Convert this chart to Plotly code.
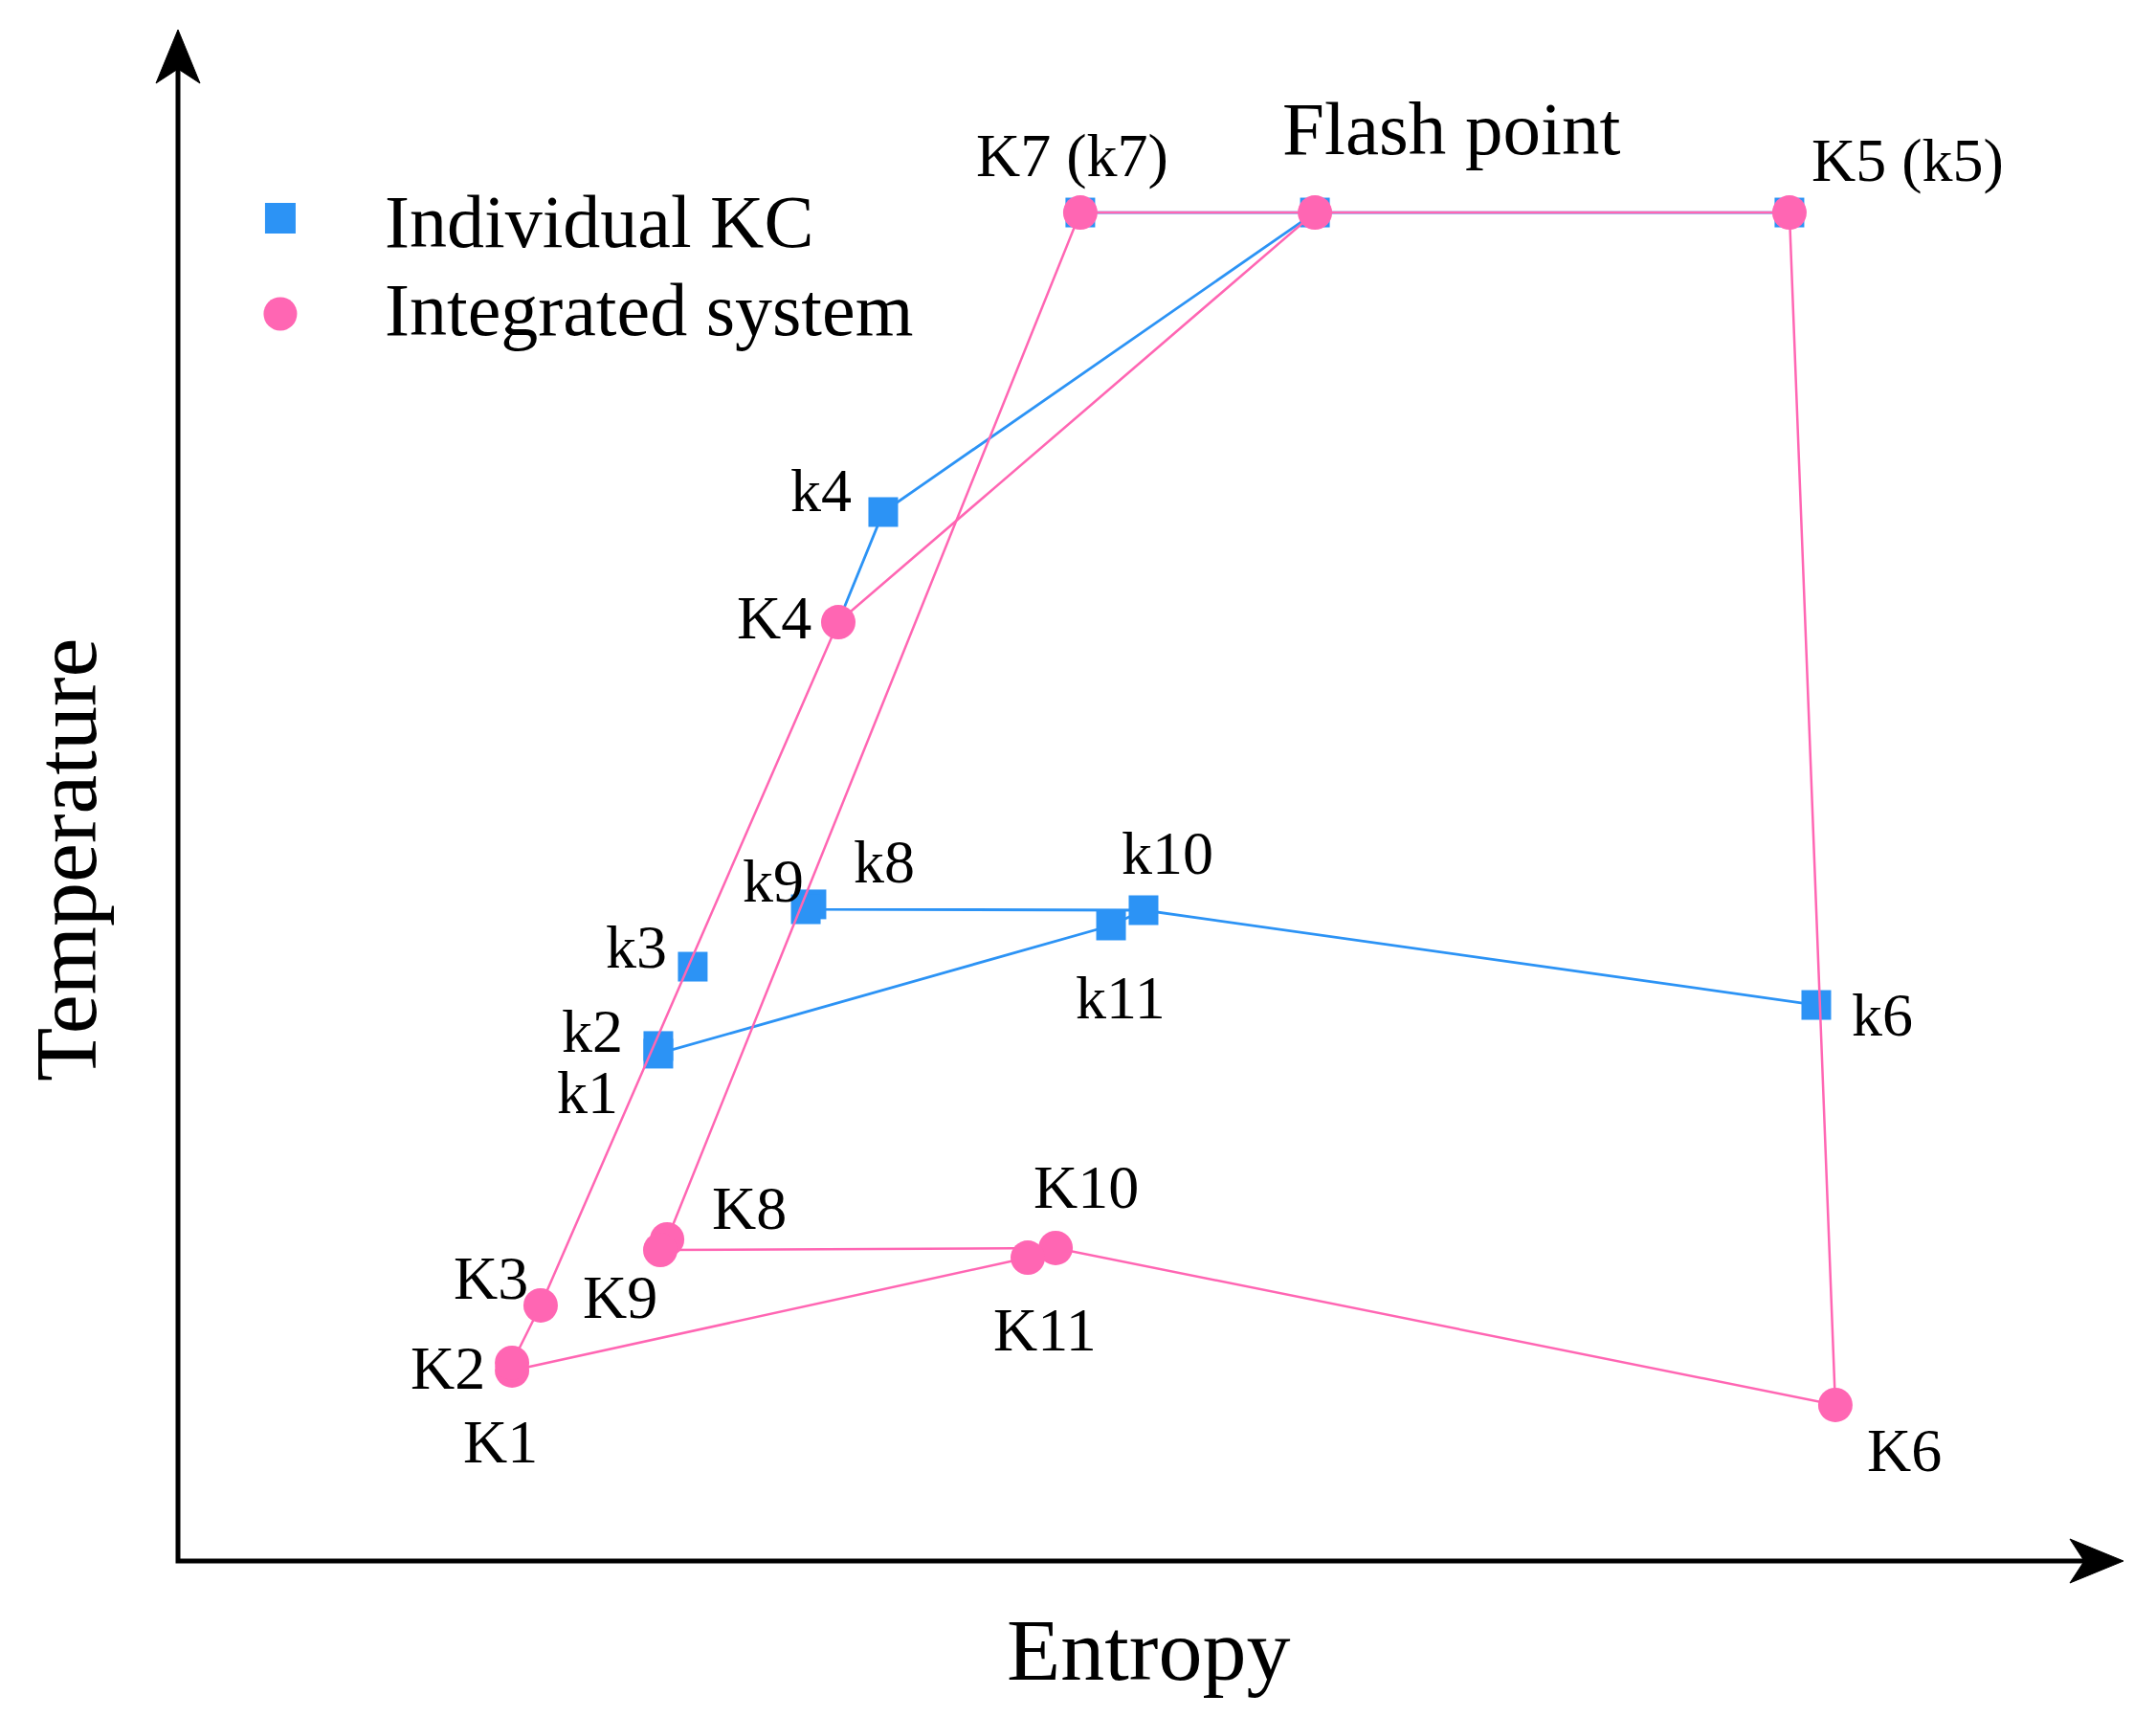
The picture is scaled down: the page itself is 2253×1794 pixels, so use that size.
import plotly.graph_objects as go

# ---------------- data (arbitrary entropy / temperature units) -------------
# Integrated system state points
int_names = ["K1", "K2", "K3", "K4", "K5", "K6", "K7", "K8", "K9", "K10", "K11", "Flash"]
int_text = ["K1", "K2", "K3", "K4", "K5 (k5)", "K6", "K7 (k7)", "K8", "K9", "K10", "K11", "Flash point"]
int_s = [17.17, 17.17, 18.64, 33.94, 82.83, 85.19, 46.38, 25.14, 24.79, 45.11, 43.68, 58.44]
int_t = [12.44, 12.94, 16.69, 61.31, 88.06, 10.19, 88.06, 21.00, 20.31, 20.44, 19.81, 88.06]
int_path = [["K1", "K2", "K3", "K4", "Flash", "K5", "K6", "K10", "K11", "K1"],
            ["K10", "K9", "K8", "K7", "Flash"]]

# Individual KC state points
ind_names = ["k1", "k2", "k3", "k4", "k5", "k6", "k7", "k8", "k9", "k10", "k11", "Flash"]
ind_text = ["k1", "k2", "k3", "k4", "", "k6", "", "k8", "k9", "k10", "k11", ""]
ind_s = [24.69, 24.69, 26.46, 36.25, 82.83, 84.21, 46.38, 32.56, 32.27, 49.63, 47.96, 58.44]
ind_t = [33.13, 33.63, 38.81, 68.50, 88.06, 36.31, 88.06, 42.88, 42.56, 42.50, 41.50, 88.06]
# visible blue connections (as drawn in the original figure)
ind_path = [["k1", "k2"], ["K4", "k4", "Flash"], ["k7", "Flash", "k5"],
            ["k6", "k10", "k11", "k1"], ["k10", "k9", "k8"]]

# ---------------- styling -------------
PINK = "#FF66B3"
BLUE = "#2C93F5"
FONT = "Liberation Serif, Times New Roman, serif"

# label offsets from their point, in pixels (x right, y up)
label_shift = {
    "K1": (-12, -75), "K2": (-67, -6), "K3": (-52, 28), "K4": (-67, 5), "K5": (124, 55),
    "K6": (72, -48), "K7": (-8, 60), "K8": (86, 33), "K9": (-42, -49), "K10": (32, 63),
    "K11": (18, -75), "Flash": (142, 88),
    "k1": (-74, -41), "k2": (-69, 15), "k3": (-59, 21), "k4": (-65, 23), "k6": (69, -10),
    "k8": (76, 44), "k9": (-34, 30), "k10": (25, 60), "k11": (10, -75),
}

# lookup of every named state point (individual first, integrated K-points by their own names)
lookup = {}
for n, x, y in zip(int_names, int_s, int_t):
    lookup[n] = (x, y)
ind_lookup = dict(lookup)
for n, x, y in zip(ind_names, ind_s, ind_t):
    ind_lookup[n] = (x, y)


def build_path(table, path):
    px, py = [], []
    for seg in path:
        for n in seg:
            x, y = table[n]
            px.append(x)
            py.append(y)
        px.append(None)
        py.append(None)
    return px, py


fig = go.Figure()

bx, by = build_path(ind_lookup, ind_path)
fig.add_trace(go.Scatter(x=bx, y=by, mode="lines", line=dict(color=BLUE, width=2.8),
                         connectgaps=False, showlegend=False, hoverinfo="skip", cliponaxis=False))
fig.add_trace(go.Scatter(x=ind_s, y=ind_t, mode="markers", name="Individual KC",
                         marker=dict(symbol="square", size=31, color=BLUE, line=dict(width=0)),
                         showlegend=False, cliponaxis=False))

px_, py_ = build_path(lookup, int_path)
fig.add_trace(go.Scatter(x=px_, y=py_, mode="lines", line=dict(color=PINK, width=2.5),
                         connectgaps=False, showlegend=False, hoverinfo="skip", cliponaxis=False))
fig.add_trace(go.Scatter(x=int_s, y=int_t, mode="markers", name="Integrated system",
                         marker=dict(symbol="circle", size=36, color=PINK, line=dict(width=0)),
                         showlegend=False, cliponaxis=False))

annotations = []
for names, texts, xs, ys in ((int_names, int_text, int_s, int_t), (ind_names, ind_text, ind_s, ind_t)):
    for n, txt, x, y in zip(names, texts, xs, ys):
        if not txt:
            continue
        dx, dy = label_shift[n]
        annotations.append(dict(x=x, y=y, xref="x", yref="y", text=txt, showarrow=False,
                                xshift=dx, yshift=dy, xanchor="center", yanchor="middle",
                                font=dict(family=FONT, size=79 if n == "Flash" else 64, color="black")))

# axis titles
annotations.append(dict(x=0.4988, y=-0.058, xref="paper", yref="paper", text="Entropy",
                        showarrow=False, xanchor="center", yanchor="middle",
                        font=dict(family=FONT, size=92, color="black")))
annotations.append(dict(x=-0.0576, y=0.458, xref="paper", yref="paper", text="Temperature",
                        showarrow=False, xanchor="center", yanchor="middle", textangle=-90,
                        font=dict(family=FONT, size=92, color="black")))
# legend text
annotations.append(dict(x=0.1052, y=0.875, xref="paper", yref="paper", text="Individual KC",
                        showarrow=False, xanchor="left", yanchor="middle",
                        font=dict(family=FONT, size=78, color="black")))
annotations.append(dict(x=0.1052, y=0.8169, xref="paper", yref="paper", text="Integrated system",
                        showarrow=False, xanchor="left", yanchor="middle",
                        font=dict(family=FONT, size=78, color="black")))

shapes = [
    # axes lines
    dict(type="path", xref="paper", yref="paper", path="M 0,0.981 L 0,0 L 0.985,0",
         line=dict(color="black", width=5)),
    # arrow heads
    dict(type="path", xref="paper", yref="paper", xsizemode="pixel", ysizemode="pixel",
         xanchor=1, yanchor=0, path="M 0,0 L -56,23 L -41,0 L -56,-23 Z",
         fillcolor="black", line=dict(color="black", width=1)),
    dict(type="path", xref="paper", yref="paper", xsizemode="pixel", ysizemode="pixel",
         xanchor=0, yanchor=1, path="M 0,0 L -23,-56 L 0,-41 L 23,-56 Z",
         fillcolor="black", line=dict(color="black", width=1)),
    # legend symbols
    dict(type="rect", xref="paper", yref="paper", xsizemode="pixel", ysizemode="pixel",
         xanchor=0.0526, yanchor=0.8769, x0=-16, x1=16, y0=-16, y1=16,
         fillcolor=BLUE, line=dict(width=0)),
    dict(type="circle", xref="paper", yref="paper", xsizemode="pixel", ysizemode="pixel",
         xanchor=0.0526, yanchor=0.8144, x0=-17.5, x1=17.5, y0=-17.5, y1=17.5,
         fillcolor=PINK, line=dict(width=0)),
]

fig.update_layout(
    width=2237, height=1778,
    margin=dict(l=178, r=26, t=23, b=155, pad=0),
    paper_bgcolor="white", plot_bgcolor="white",
    xaxis=dict(range=[0, 100], visible=False, fixedrange=True),
    yaxis=dict(range=[0, 100], visible=False, fixedrange=True),
    annotations=annotations, shapes=shapes,
    showlegend=False, hovermode=False,
)

fig.write_html("out.html")
